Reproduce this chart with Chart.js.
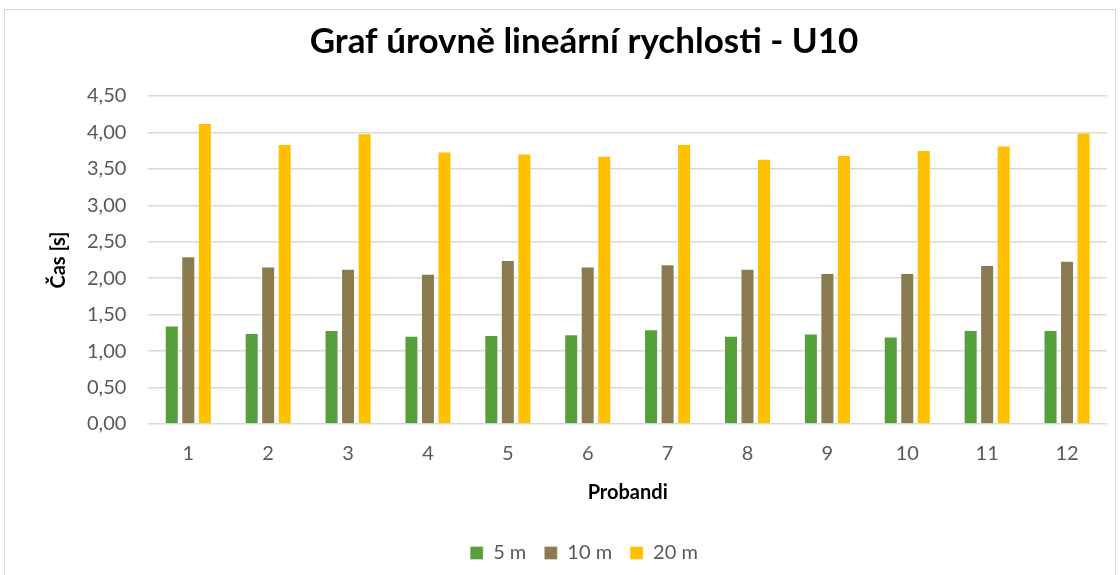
<!DOCTYPE html>
<html>
<head>
<meta charset="utf-8">
<script src="https://cdn.jsdelivr.net/npm/chart.js@4.4.0/dist/chart.umd.min.js"></script>
<style>
    html, body { margin: 0; padding: 0; background: #fff; overflow: hidden; }
    #frame { position: absolute; left: 4px; top: 9px; width: 1112px; height: 600px; border: 1px solid #d9d9d9; box-sizing: border-box; }
    #wrap { position: absolute; left: 0; top: 0; width: 1120px; height: 575px; }
</style>
</head>
<body>
<div id="frame"></div>
<div id="wrap"><canvas id="chart"></canvas></div>
<script>
// Data
const probandi = ['1', '2', '3', '4', '5', '6', '7', '8', '9', '10', '11', '12'];
const cas5m  = [1.35, 1.25, 1.29, 1.21, 1.22, 1.23, 1.30, 1.21, 1.24, 1.20, 1.29, 1.29];
const cas10m = [2.30, 2.16, 2.13, 2.06, 2.25, 2.16, 2.19, 2.13, 2.07, 2.07, 2.18, 2.24];
const cas20m = [4.13, 3.84, 3.99, 3.74, 3.71, 3.68, 3.84, 3.64, 3.69, 3.76, 3.82, 4.00];
const yTicks = [0, 0.5, 1, 1.5, 2, 2.5, 3, 3.5, 4, 4.5];

const fontFamily = 'Lato, "Open Sans", sans-serif';
const grey = '#595959';

function makeSet(label, data, color) {
    return {
        label: label,
        data: data,
        backgroundColor: color,
        borderColor: 'rgba(255,255,255,0.35)',
        borderWidth: 1,
        categoryPercentage: 0.62,
        barPercentage: 0.85
    };
}

// nudge title and legend a bit right, like in the original
const boxShift = {
    id: 'boxShift',
    afterLayout(chart) {
        if (chart.titleBlock) chart.titleBlock.left += 18;
        if (chart.legend) chart.legend.left += 18;
    }
};

const ctx = document.getElementById('chart').getContext('2d');
new Chart(ctx, {
    type: 'bar',
    data: {
        labels: probandi,
        datasets: [
            makeSet('5 m', cas5m, '#55A03B'),
            makeSet('10 m', cas10m, '#8B7B51'),
            makeSet('20 m', cas20m, '#FFC000')
        ]
    },
    options: {
        responsive: true,
        maintainAspectRatio: false,
        animation: false,
        layout: { padding: { left: 43, right: 13, top: 16, bottom: 2 } },
        plugins: {
            title: {
                display: true,
                text: 'Graf úrovně lineární rychlosti - U10',
                color: '#000',
                font: { family: fontFamily, size: 35, weight: 'bold' },
                padding: { top: 5, bottom: 33 }
            },
            legend: {
                position: 'bottom',
                labels: {
                    color: grey,
                    font: { family: fontFamily, size: 20 },
                    boxWidth: 13,
                    boxHeight: 13,
                    padding: 18
                }
            },
            tooltip: { enabled: false }
        },
        scales: {
            x: {
                grid: { display: false, drawTicks: false },
                border: { display: false },
                ticks: { color: grey, font: { family: fontFamily, size: 20 }, padding: 18 },
                title: {
                    display: true,
                    text: 'Probandi',
                    color: '#000',
                    font: { family: fontFamily, size: 20, weight: 'bold' },
                    padding: { top: -3, bottom: 20 }
                }
            },
            y: {
                min: 0,
                max: 4.5,
                afterBuildTicks: (axis) => { axis.ticks = yTicks.map(v => ({ value: v })); },
                grid: { color: '#d9d9d9', lineWidth: 1.5, drawTicks: false },
                border: { display: false },
                ticks: {
                    color: grey,
                    font: { family: fontFamily, size: 20 },
                    padding: 22,
                    callback: (v) => v.toFixed(2).replace('.', ',')
                },
                title: {
                    display: true,
                    text: 'Čas [s]',
                    color: '#000',
                    font: { family: fontFamily, size: 20, weight: 'bold' },
                    padding: { bottom: -6 }
                }
            }
        }
    },
    plugins: [boxShift]
});
</script>
</body>
</html>
